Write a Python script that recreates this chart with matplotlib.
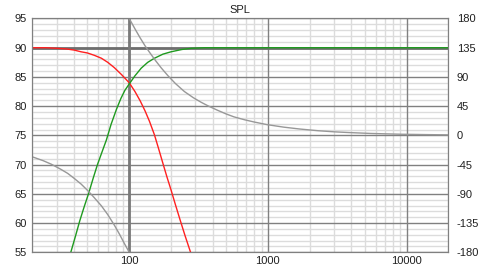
import numpy as np
import matplotlib
matplotlib.use("Agg")
import matplotlib.pyplot as plt
from matplotlib.ticker import FixedLocator, FuncFormatter, NullFormatter

plt.rcParams['font.family'] = ['Liberation Sans', 'DejaVu Sans']

# lowpass (red)
lp_freq = [20, 25, 30, 35, 40, 45, 50, 56, 63, 70, 78, 88, 100, 110, 120, 130, 140,
           152, 163, 175, 187, 200, 215, 233, 253, 276, 290]
lp_spl = [90.0, 90.0, 89.9, 89.8, 89.6, 89.3, 89.1, 88.7, 88.2, 87.5, 86.6, 85.4, 84.0,
          82.5, 80.9, 79.2, 77.4, 75.1, 72.7, 70.2, 67.9, 65.7, 63.2, 60.5, 57.8, 55.1, 53.6]

# highpass (green)
hp_freq = [36, 38, 41, 44, 47.5, 51, 55, 59, 63.5, 68.4, 74, 81, 87, 93, 100, 110, 122,
           136, 152, 175, 200, 240, 280, 350, 20000]
hp_spl = [53.4, 55.1, 57.8, 60.4, 62.9, 65.1, 67.7, 70.0, 72.1, 74.2, 76.9, 79.5, 81.3,
          82.7, 83.8, 85.2, 86.5, 87.5, 88.2, 88.9, 89.3, 89.7, 89.9, 90.0, 90.0]

# phase (grey), two pieces because it wraps at 100 Hz
ph_lo_freq = [20, 24, 27.5, 32, 36, 40, 45, 50.5, 56, 63, 70, 78, 85, 92, 100]
ph_lo_deg = [-33, -39, -44.5, -52, -58.5, -66, -75, -85.5, -96, -108.5, -122, -138, -152, -166, -180]
ph_hi_freq = [100, 110, 120, 130, 140, 155, 170, 190, 215, 250, 290, 330, 370, 430, 500,
              570, 680, 800, 990, 1300, 1700, 2300, 3000, 4000, 5500, 9000, 14000, 20000]
ph_hi_deg = [180, 164, 150, 138, 128, 115, 104, 92, 80, 67.5, 58, 51, 45.5, 39, 33,
             28.5, 24, 20.5, 16.5, 12.7, 9.8, 7.2, 5.5, 4.2, 3, 1.8, 1.2, 0.8]

spl_ticks = [55, 60, 65, 70, 75, 80, 85, 90, 95]
deg_ticks = [-180, -135, -90, -45, 0, 45, 90, 135, 180]
freq_ticks = [100, 1000, 10000]

fig = plt.figure(figsize=(4.8, 2.7), dpi=100)
ax = fig.add_axes([0.0673, 0.0656, 0.8667, 0.8659])
ax.set_xscale('log')
ax.set_xlim(20, 20000)
ax.set_ylim(55, 95)

minor_x = [m * 10 ** e for e in range(1, 5) for m in range(2, 10) if 20 <= m * 10 ** e <= 20000]
ax.xaxis.set_major_locator(FixedLocator(freq_ticks))
ax.xaxis.set_minor_locator(FixedLocator(minor_x))
ax.xaxis.set_major_formatter(FuncFormatter(lambda v, p: f"{v:.0f}"))
ax.xaxis.set_minor_formatter(NullFormatter())
ax.yaxis.set_major_locator(FixedLocator(spl_ticks))
ax.yaxis.set_minor_locator(FixedLocator(np.arange(55, 96, 1)))

# light minor grid, darker major lines drawn on top of it
ax.grid(which='minor', color='#dcdcdc', lw=1.0)
ax.set_axisbelow(True)
for v in spl_ticks:
    ax.axhline(v, color='#808080', lw=1.0, zorder=1)
for v in freq_ticks:
    ax.axvline(v, color='#808080', lw=1.0, zorder=1)

ax.tick_params(which='both', length=0, labelsize=8, colors='#202020')
ax.tick_params(axis='y', pad=4)
ax.tick_params(axis='x', pad=3)
for s in ax.spines.values():
    s.set_color('#808080')

ax.axhline(90, color='#6e6e6e', lw=2.0, zorder=1.5)
ax.axvline(100, color='#7a7a7a', lw=2.0, zorder=1.5)

ax.plot(lp_freq, lp_spl, color='#ff2020', lw=1.0, zorder=3)
ax.plot(hp_freq, hp_spl, color='#1f9a1f', lw=1.0, zorder=3)

ax2 = ax.twinx()
ax2.set_ylim(-180, 180)
ax2.yaxis.set_major_locator(FixedLocator(deg_ticks))
ax2.yaxis.set_major_formatter(FuncFormatter(lambda v, p: f"{v:.0f}"))
ax2.tick_params(length=0, labelsize=8, colors='#202020', pad=6)
for s in ax2.spines.values():
    s.set_color('#808080')
ax2.plot(ph_lo_freq, ph_lo_deg, color='#989898', lw=1.0)
ax2.plot(ph_hi_freq, ph_hi_deg, color='#989898', lw=1.0)

ax.set_title('SPL', fontsize=8, color='#202020', pad=4)

fig.savefig('out.png', dpi=100)
